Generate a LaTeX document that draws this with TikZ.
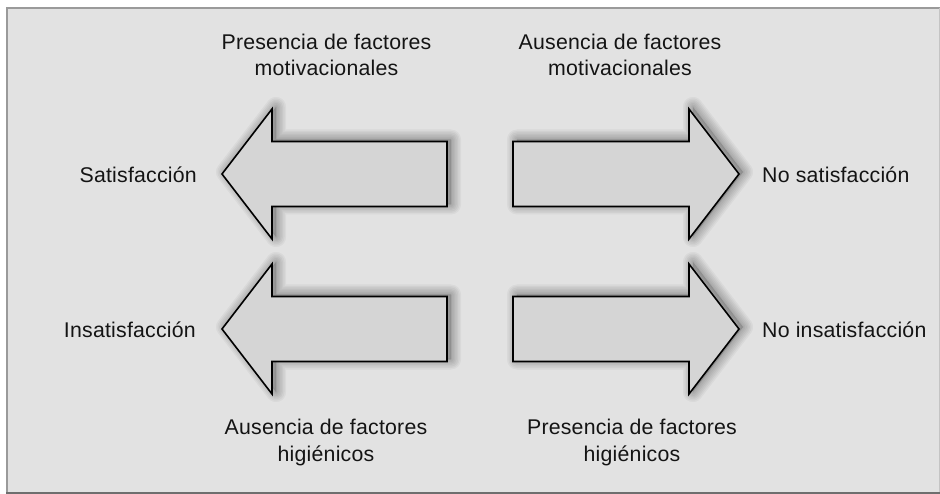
\documentclass[tikz,border=0pt]{standalone}
\usepackage{fontspec}
\setmainfont{Liberation Sans}[LetterSpace=1]
\definecolor{bgpanel}{HTML}{E2E2E2}
\definecolor{arrowfill}{HTML}{D5D5D5}
\definecolor{frametop}{HTML}{9A9A9A}
\definecolor{framebot}{HTML}{6E6E6E}
\definecolor{frameright}{HTML}{C4C4C4}
\tikzset{
  lbl/.style={anchor=base, inner sep=0pt, font=\fontsize{21.3}{26}\selectfont, text=black!92},
  arrowbody/.style={fill=arrowfill, draw=black, line width=1.6pt, line join=miter},
  shadowlayer/.style={draw=black, line join=round, opacity=0.04}
}
\newcommand{\leftarrowshape}[1]{% centre y
  (222,#1) -- (272,#1-65) -- (272,#1-32.5) -- (447,#1-32.5) -- (447,#1+32.5) -- (272,#1+32.5) -- (272,#1+65) -- cycle}
\newcommand{\rightarrowshape}[1]{%
  (739,#1) -- (689,#1-65) -- (689,#1-32.5) -- (513,#1-32.5) -- (513,#1+32.5) -- (689,#1+32.5) -- (689,#1+65) -- cycle}
\newcommand{\blurshadow}[1]{%
  \foreach \w in {2,5,8,11,14,17,20}{
    \draw[shadowlayer, line width=\w pt, fill=black, fill opacity=0.02] [shift={(4,-2)}] #1;
  }}
\begin{document}
\begin{tikzpicture}[x=1pt,y=-1pt]
  \useasboundingbox (0,0) rectangle (940,494);
  \fill[white] (0,0) rectangle (940,494);
  % panel
  \fill[bgpanel] (6,7) rectangle (940,494);
  \draw[frametop, line width=2.5pt] (7.2,494) -- (7.2,8.2) -- (940,8.2);
  \draw[frameright, line width=1pt] (939.5,8.2) -- (939.5,492);
  \fill[framebot] (6,491.5) rectangle (940,494);
  % shadows
  \blurshadow{\leftarrowshape{174}}
  \blurshadow{\rightarrowshape{174}}
  \blurshadow{\leftarrowshape{329}}
  \blurshadow{\rightarrowshape{329}}
  % arrows
  \draw[arrowbody] \leftarrowshape{174};
  \draw[arrowbody] \rightarrowshape{174};
  \draw[arrowbody] \leftarrowshape{329};
  \draw[arrowbody] \rightarrowshape{329};
  % labels
  \node[lbl] (pm1) at (326.5,50) {Presencia de factores};
  \node[lbl] (pm2) at (326.5,76) {motivacionales};
  \node[lbl] (am1) at (620,50) {Ausencia de factores};
  \node[lbl] (am2) at (620,76) {motivacionales};
  \node[lbl, anchor=base east] (sat) at (197,182.5) {Satisfacción};
  \node[lbl, anchor=base west] (nsat) at (762,182.5) {No satisfacción};
  \node[lbl, anchor=base east] (ins) at (196,337.5) {Insatisfacción};
  \node[lbl, anchor=base west] (nins) at (762,337.5) {No insatisfacción};
  \node[lbl] (ah1) at (326,434) {Ausencia de factores};
  \node[lbl] (ah2) at (326,461) {higiénicos};
  \node[lbl] (ph1) at (632,434.5) {Presencia de factores};
  \node[lbl] (ph2) at (632,461.5) {higiénicos};
\end{tikzpicture}
\end{document}
